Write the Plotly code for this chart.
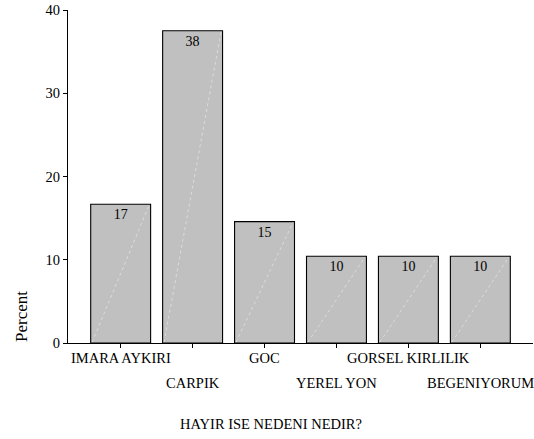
import plotly.graph_objects as go

categories = ["IMARA AYKIRI", "CARPIK", "GOC", "YEREL YON", "GORSEL KIRLILIK", "BEGENIYORUM"]
percent = [16.67, 37.5, 14.58, 10.42, 10.42, 10.42]
y_ticks = [0, 10, 20, 30, 40]
x_title = "HAYIR ISE NEDENI NEDIR?"
y_title = "Percent"

FONT = "Liberation Serif, Times New Roman, serif"
bar_w = 0.833
xs = list(range(len(categories)))

W, H = 534, 439
ML, MR, MT, MB = 68, 1, 10, 96
plot_w = W - ML - MR
plot_h = H - MT - MB

fig = go.Figure()
fig.add_trace(go.Bar(
    x=xs, y=percent, width=bar_w,
    marker=dict(color="#c0c0c0", line=dict(color="#000000", width=1.1)),
    texttemplate="%{y:.0f}", textposition="inside", insidetextanchor="end",
    textfont=dict(family=FONT, size=14, color="#000000"),
    textangle=0, showlegend=False, hoverinfo="skip",
))

# faint diagonal line inside each bar
for i, v in zip(xs, percent):
    fig.add_trace(go.Scatter(
        x=[i - bar_w / 2 + 0.02, i + bar_w / 2 - 0.02], y=[0.1, v - 0.1],
        mode="lines", line=dict(color="#e6e6e6", width=0.7, dash="dot"),
        showlegend=False, hoverinfo="skip",
    ))

annotations = []
for i, c in enumerate(categories):
    annotations.append(dict(
        x=i, y=0, xref="x", yref="y", text=c, showarrow=False,
        yshift=-15 if i % 2 == 0 else -40,
        font=dict(family=FONT, size=14.5, color="#000000"),
        xanchor="center", yanchor="middle",
    ))
# x-axis title (centre at page x=271, y=424)
annotations.append(dict(
    x=(271 - ML) / plot_w, y=-(424 - 343) / plot_h, xref="paper", yref="paper",
    text=x_title, showarrow=False, xanchor="center", yanchor="middle",
    font=dict(family=FONT, size=14.5, color="#000000"),
))
# y-axis title (centre at page x=21, y=317)
annotations.append(dict(
    x=-(ML - 21) / plot_w, y=(343 - 317) / plot_h, xref="paper", yref="paper",
    text=y_title, showarrow=False, textangle=-90, xanchor="center", yanchor="middle",
    font=dict(family=FONT, size=17, color="#000000"),
))

fig.update_layout(
    width=W, height=H,
    margin=dict(l=ML, r=MR, t=MT, b=MB, pad=0),
    plot_bgcolor="white", paper_bgcolor="white",
    annotations=annotations,
    font=dict(family=FONT, size=14, color="#000000"),
)
fig.update_xaxes(
    range=[-0.732, 5.732], tickvals=xs, showticklabels=False,
    ticks="outside", ticklen=4, tickcolor="#000000", tickwidth=1,
    showline=True, linecolor="#000000", linewidth=1.1, showgrid=False, zeroline=False,
    automargin=False,
)
fig.update_yaxes(
    range=[0, 40], tickvals=y_ticks, ticks="outside", ticklen=4, tickcolor="#000000",
    tickwidth=1, showline=True, linecolor="#000000", linewidth=1.1,
    showgrid=False, zeroline=False, automargin=False,
    tickfont=dict(family=FONT, size=14.5, color="#000000"),
)

fig.write_html(
    "out.html",
    config={"displayModeBar": False},
    post_script="document.body.style.margin='0';document.body.style.overflow='hidden';",
)
